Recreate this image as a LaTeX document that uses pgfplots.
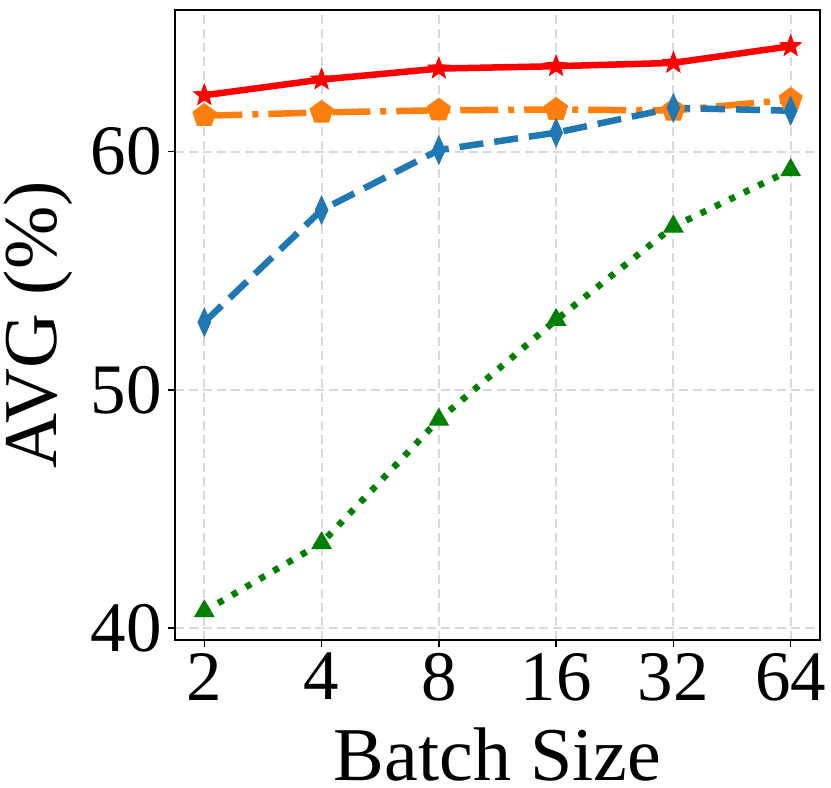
\documentclass[border=0pt]{standalone}
\usepackage{fontspec}
\setmainfont{Liberation Serif}
\usepackage{pgfplots}
\pgfplotsset{compat=1.18}
\definecolor{cRed}{HTML}{FF0000}
\definecolor{cOrange}{HTML}{FF7F0E}
\definecolor{cBlue}{HTML}{1F77B4}
\definecolor{cGreen}{HTML}{008000}
\definecolor{cGrid}{HTML}{D9D9D9}

% filled five-pointed star
\pgfdeclareplotmark{fstar}{%
  \pgfpathmoveto{\pgfpointpolar{90}{\pgfplotmarksize}}%
  \pgfpathlineto{\pgfpointpolar{126}{0.42\pgfplotmarksize}}%
  \pgfpathlineto{\pgfpointpolar{162}{\pgfplotmarksize}}%
  \pgfpathlineto{\pgfpointpolar{198}{0.42\pgfplotmarksize}}%
  \pgfpathlineto{\pgfpointpolar{234}{\pgfplotmarksize}}%
  \pgfpathlineto{\pgfpointpolar{270}{0.42\pgfplotmarksize}}%
  \pgfpathlineto{\pgfpointpolar{306}{\pgfplotmarksize}}%
  \pgfpathlineto{\pgfpointpolar{342}{0.42\pgfplotmarksize}}%
  \pgfpathlineto{\pgfpointpolar{18}{\pgfplotmarksize}}%
  \pgfpathlineto{\pgfpointpolar{54}{0.42\pgfplotmarksize}}%
  \pgfpathclose
  \pgfusepathqfillstroke
}

\begin{document}
\begin{tikzpicture}
\begin{axis}[
    scale only axis,
    width=645pt, height=630pt,
    xmin=-0.25, xmax=5.25,
    ymin=39.5, ymax=65.95,
    xtick={0,1,2,3,4,5},
    xticklabels={2,4,8,16,32,64},
    ytick={40,50,60},
    yticklabels={40,50,60},
    xtick pos=bottom, ytick pos=left,
    tick align=outside,
    major tick length=7pt,
    tick style={black, line width=1.5pt},
    axis line style={black, line width=2pt},
    grid=major,
    major grid style={cGrid, line width=2pt, dash pattern=on 9pt off 5pt},
    tick label style={font=\fontsize{71}{80}\selectfont, inner sep=0pt},
    /pgf/number format/assume math mode=true,
    yticklabel style={xshift=-6pt},
    xticklabel style={yshift=-6pt},
    xlabel={Batch Size},
    ylabel={AVG (\%)},
    label style={font=\fontsize{76}{88}\selectfont, inner sep=0pt},
    xlabel style={at={(axis description cs:0.5,0)}, anchor=base, yshift=-140pt},
    ylabel style={at={(axis description cs:-0.158,0.5)}, anchor=south},
    every axis plot/.append style={line width=6.5pt},
    clip=false,
]
\addplot[cRed, solid, mark=fstar, mark size=11pt, mark options={solid, line width=1pt}]
  coordinates {(0,62.37) (1,63.03) (2,63.49) (3,63.59) (4,63.73) (5,64.43)};
\addplot[cOrange, dash pattern=on 38pt off 10pt on 6pt off 10pt, mark=pentagon*, mark size=12pt, mark options={solid, line width=1pt}]
  coordinates {(0,61.51) (1,61.65) (2,61.74) (3,61.77) (4,61.73) (5,62.19)};
\addplot[cBlue, dash pattern=on 24pt off 11pt, mark=diamond*, mark size=14pt, mark options={solid, xscale=0.6, line width=1pt}]
  coordinates {(0,52.84) (1,57.55) (2,60.07) (3,60.80) (4,61.84) (5,61.72)};
\addplot[cGreen, dash pattern=on 6pt off 10pt, mark=triangle*, mark size=11pt, mark options={solid, line width=1pt}]
  coordinates {(0,40.71) (1,43.57) (2,48.75) (3,52.94) (4,56.86) (5,59.23)};
\end{axis}
\path (-175pt,640pt) (656pt,-148pt);
\end{tikzpicture}
\end{document}
